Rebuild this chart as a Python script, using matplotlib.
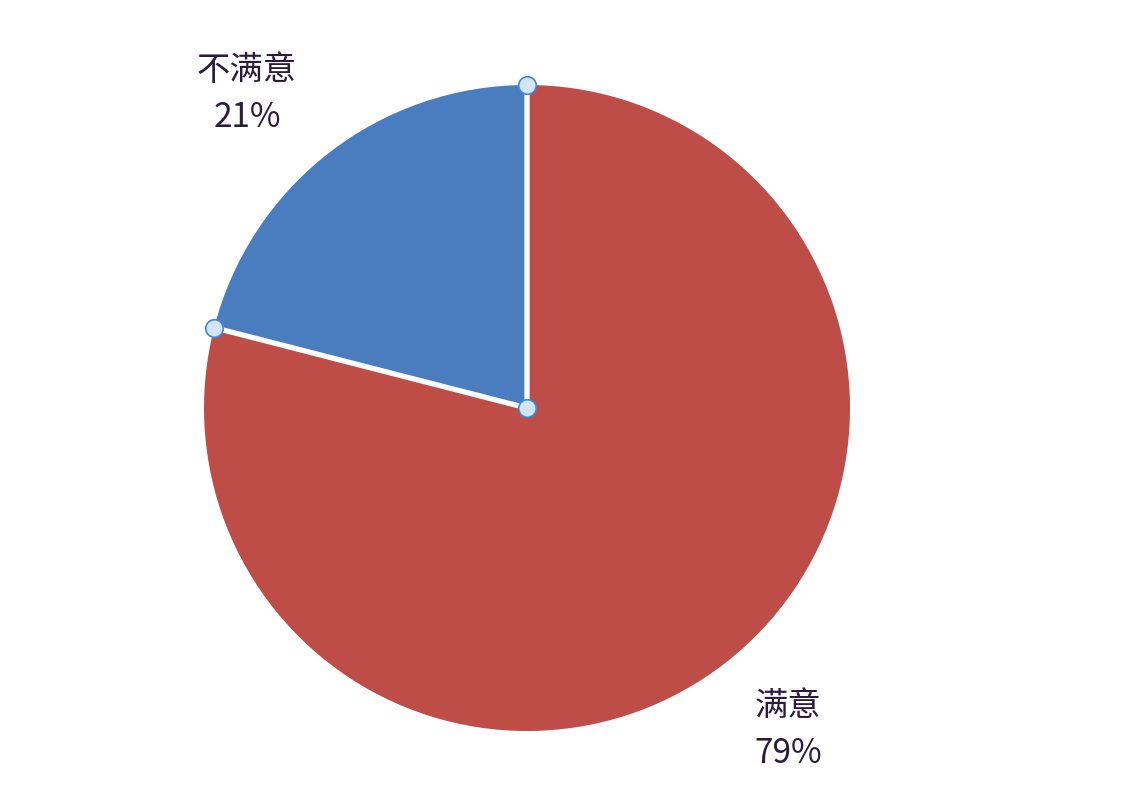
import numpy as np
import matplotlib
matplotlib.use("Agg")
import matplotlib.pyplot as plt

plt.rcParams['font.family'] = ['Noto Sans CJK SC', 'DejaVu Sans']

# 資料
categories = ['不满意', '满意']
values = [21, 79]
colors = ['#4A7DC0', '#BE4D48']

fig = plt.figure(figsize=(11.34, 8.08), dpi=100)
ax = fig.add_axes([0, 0, 1, 1])

cx, cy, r = 527, 400, 323
labels = [f'{c}\n{v}%' for c, v in zip(categories, values)]

wedges, texts = ax.pie(values, colors=colors, startangle=90, counterclock=True,
                       center=(cx, cy), radius=r, labels=labels,
                       labeldistance=1.29, frame=True,
                       textprops=dict(fontsize=24, color='#2B1B3D',
                                      ha='center', va='center', linespacing=1.45))
for t in texts:
    t.set_horizontalalignment('center')
# 標籤微調
texts[0].set_position((247, 808 - 94))
texts[1].set_position((788, 808 - 730))

# 選取的扇形: 白色邊線 + 控制點
w = wedges[0]
a1, a2 = np.radians(w.theta1), np.radians(w.theta2)
pts = [(cx + r * np.cos(a1), cy + r * np.sin(a1)),
       (cx, cy),
       (cx + r * np.cos(a2), cy + r * np.sin(a2))]
xs, ys = zip(*pts)
ax.plot(xs, ys, color='white', lw=3.8, solid_capstyle='butt', zorder=3)
ax.scatter(xs, ys, s=160, facecolor='#D3E5F5', edgecolor='#3C8AD8', lw=1.2, zorder=4)

ax.set_xlim(0, 1134)
ax.set_ylim(0, 808)
ax.set_aspect('equal')
ax.axis('off')

fig.savefig('out.png', dpi=100, facecolor='white')
